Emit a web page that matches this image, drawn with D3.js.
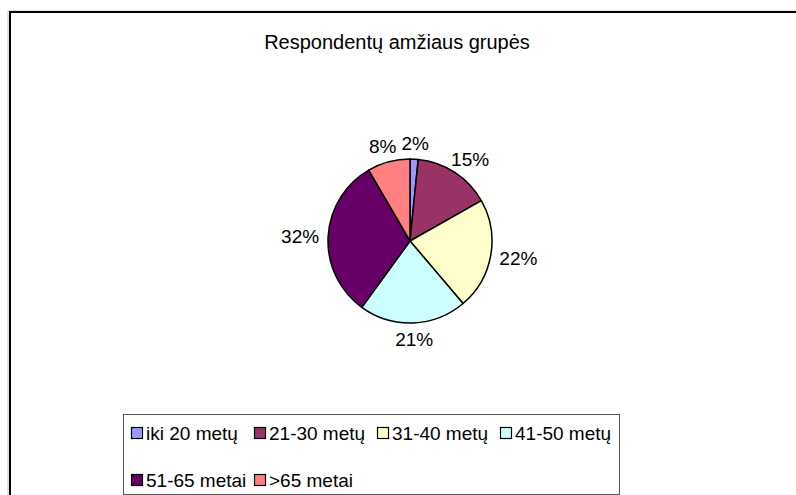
<!DOCTYPE html>
<html>
<head>
<meta charset="utf-8">
<script src="https://cdn.jsdelivr.net/npm/d3@7"></script>
<style>
	body{margin:0;background:#fff;}
	svg{display:block;font-family:Arial, "Liberation Sans", sans-serif;}
</style>
</head>
<body>
<div id="chart"></div>
<script>
// chart data
const title = 'Respondentų amžiaus grupės';
const categories = ['iki 20 metų', '21-30 metų', '31-40 metų', '41-50 metų', '51-65 metai', '>65 metai'];
const shares = [1.6, 15.2, 22.0, 21.2, 31.6, 8.4];
const sliceColors = ['#9999FF', '#993366', '#FFFFCC', '#CCFFFF', '#660066', '#FF8080'];

const W = 796, H = 495;
let cx = 410, cy = 241, R = 82;

let svg = d3.select('#chart').append('svg').attr('width', W).attr('height', H);

// outer chart frame (runs off the picture on right and bottom)
svg.append('rect').attr('x', 8).attr('y', 11).attr('width', W).attr('height', H)
	.attr('fill', 'none').attr('stroke', '#c8c8c8').attr('stroke-width', 1);
svg.append('rect').attr('x', 10).attr('y', 12).attr('width', W).attr('height', H)
	.attr('fill', '#fff').attr('stroke', '#000').attr('stroke-width', 2);

svg.append('text').attr('x', 397).attr('y', 49).attr('text-anchor', 'middle')
	.style('font-size', '20px').text(title);

let data = categories.map((c, i) => ({name: c, value: shares[i], color: sliceColors[i]}));
let total = d3.sum(shares);

const pie = d3.pie().sort(null).value(d => d.value);
const arc = d3.arc().innerRadius(0).outerRadius(R);
let arcs = pie(data);

let g = svg.append('g').attr('transform', `translate(${cx},${cy})`);
g.selectAll('path').data(arcs).enter().append('path')
	.attr('d', arc)
	.attr('fill', d => d.data.color)
	.attr('stroke', '#000').attr('stroke-width', 1.5).attr('stroke-linejoin', 'round');

// percentage labels outside the pie, pushed out by half the text box
let labelR = R + 9;
arcs.forEach(function(a){
	let mid = (a.startAngle + a.endAngle) / 2,
		dx = Math.sin(mid),
		dy = -Math.cos(mid);
	let t = g.append('text').style('font-size', '19px')
		.attr('text-anchor', 'middle')
		.text(Math.round(a.data.value / total * 100) + '%');
	let bb = t.node().getBBox();
	let x = dx * labelR + dx * bb.width / 2,
		y = dy * labelR + dy * 7;
	t.attr('x', x).attr('y', y + 7);
});

// legend
let legX = 123, legY = 414, legW = 496, legH = 80;
svg.append('rect').attr('x', legX + 0.5).attr('y', legY + 0.5).attr('width', legW).attr('height', legH)
	.attr('fill', '#fff').attr('stroke', '#555').attr('stroke-width', 1);
let colW = 123, rowH = 47, perRow = 4;
data.forEach(function(d, i){
	let col = i % perRow, row = Math.floor(i / perRow);
	let x = legX + 8 + col * colW, y = legY + 19 + row * rowH;
	svg.append('rect').attr('x', x + 0.5).attr('y', y - 5.5).attr('width', 11).attr('height', 11)
		.attr('fill', d.color).attr('stroke', '#000').attr('stroke-width', 1.2);
	svg.append('text').attr('x', x + 15).attr('y', y + 7).style('font-size', '19px').text(d.name);
});
</script>
</body>
</html>
